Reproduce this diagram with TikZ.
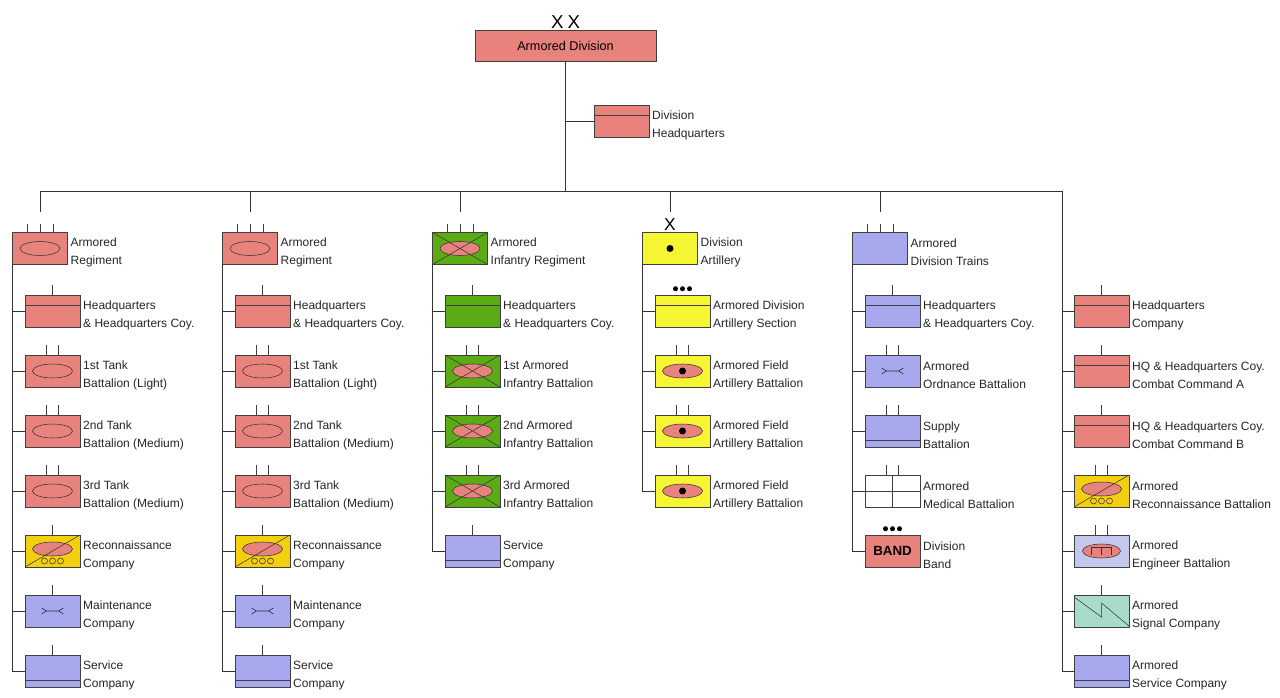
\documentclass[tikz,border=0pt]{standalone}
\usepackage{fontspec}
\setmainfont{Liberation Sans}
\usepackage{tikz}
\definecolor{armred}{HTML}{E8827C}
\definecolor{infgreen}{HTML}{5AAB14}
\definecolor{artyyel}{HTML}{F5F533}
\definecolor{reconyel}{HTML}{F2D010}
\definecolor{svcblue}{HTML}{A8A8EE}
\definecolor{engblue}{HTML}{C4C8EC}
\definecolor{sigteal}{HTML}{A8DCC8}
\tikzset{%
  unit/.style={draw=black!75, minimum width=41.25pt, minimum height=24pt,
               inner sep=0pt},
  lbl/.style={anchor=west, align=left, inner sep=0pt, text=black!85,
              font=\fontsize{9}{13.5}\selectfont},
  conn/.style={draw=black!80},
  % symbols, drawn from the box centre (1 unit = 1 px, y downwards)
  sy-none/.pic={},
  sy-hq/.pic={\draw[black!75] (-27.5,-6) -- (27.5,-6);},
  sy-armor/.pic={\draw[black!80] (0,0) ellipse [x radius=20, y radius=7];},
  sy-inf/.pic={\draw[black!80,fill=armred] (0,0) ellipse [x radius=20, y radius=7];
               \draw[black!80] (-27.5,-16) -- (27.5,16) (-27.5,16) -- (27.5,-16);},
  sy-recon/.pic={\draw[black!80,fill=armred] (0,-2) ellipse [x radius=20, y radius=7];
                 \draw[black!80] (-27.5,16) -- (27.5,-16);
                 \foreach \c in {-8,0,8} \draw[black!80] (\c,10) circle [radius=3];},
  sy-maint/.pic={\draw[black!85] (-11,-3) -- (-6,0) -- (-11,3) (-6,0) -- (6,0)
                 (11,-3) -- (6,0) -- (11,3);},
  sy-service/.pic={\draw[black!75] (-27.5,9) -- (27.5,9);},
  sy-arty/.pic={\fill (0,0) circle [radius=3.5];},
  sy-field/.pic={\draw[black!80,fill=armred] (0,0) ellipse [x radius=20, y radius=7];
                 \fill (0,0) circle [radius=3.5];},
  sy-medical/.pic={\draw[black!75] (0,-16) -- (0,16) (-27.5,0) -- (27.5,0);},
  sy-band/.pic={\node[font=\bfseries\fontsize{10}{12}\selectfont] {BAND};},
  sy-engineer/.pic={\draw[black!80,fill=armred] (0,0) ellipse [x radius=19, y radius=7];
                    \draw[black!80] (-10,4) -- (-10,-4) -- (10,-4) -- (10,4) (0,-4) -- (0,4);},
  sy-signal/.pic={\draw[black!80] (-27.5,-14) -- (0,6) -- (0,-8) -- (27.5,15);},
  % echelon marks, drawn from the top of the box
  ec-co/.pic={\draw[black!75] (0,0) -- (0,-10);},
  ec-bn/.pic={\draw[black!75] (-6,0) -- (-6,-10) (6,0) -- (6,-10);},
  ec-rgt/.pic={\draw[black!75] (-13,0) -- (-13,-8) (0,0) -- (0,-8) (13,0) -- (13,-8);},
  ec-sec/.pic={\foreach \c in {-7,0,7} \fill (\c,-6) circle [radius=2.5];},
  ec-bde/.pic={\node[anchor=south, inner sep=0pt, font=\fontsize{13}{13}\selectfont] at (0,-1) {X};},
}
% name, centre, fill, symbol, echelon, label
\newcommand\orgunit[6]{%
  \node[unit, fill=#3] (#1) at (#2) {};
  \pic at (#1.center) {#4};
  \pic at (#1.north) {#5};
  \node[lbl] at ([xshift=2pt,yshift=-3pt]#1.east) {#6};}

\begin{document}
\begin{tikzpicture}[x=0.75pt, y=-0.75pt]
  \useasboundingbox (0,0) rectangle (1280,698);

  % division
  \node[unit, fill=armred, minimum width=135.75pt, minimum height=23.25pt,
        font=\fontsize{9.5}{12}\selectfont] (div) at (565.5,45.5) {Armored Division};
  \node[anchor=south, inner sep=0pt, font=\fontsize{14}{14}\selectfont]
       (xx) at ([yshift=1pt]div.north) {X\hspace{3pt}X};
  \orgunit{divhq}{621.5,121}{armred}{sy-hq}{sy-none}{Division\\Headquarters}
  \coordinate (bus) at (565,191);
  \draw[conn] (div.south -| bus) -- (bus);
  \draw[conn] (divhq.west) -- (bus |- divhq.west);
  \draw[conn] (40,191) -- (1062,191);
  \foreach \k in {0,...,4}
    \draw[conn] (40+210*\k,191) -- (40+210*\k,212);

  % armored regiments
  \foreach \k/\n in {0/a,1/b} {
    \orgunit{\n0}{40+210*\k,248.5}{armred}{sy-armor}{ec-rgt}{Armored\\Regiment}
    \orgunit{\n1}{52.5+210*\k,311}{armred}{sy-hq}{ec-co}{Headquarters\\\& Headquarters Coy.}
    \orgunit{\n2}{52.5+210*\k,371}{armred}{sy-armor}{ec-bn}{1st Tank\\Battalion (Light)}
    \orgunit{\n3}{52.5+210*\k,431}{armred}{sy-armor}{ec-bn}{2nd Tank\\Battalion (Medium)}
    \orgunit{\n4}{52.5+210*\k,491}{armred}{sy-armor}{ec-bn}{3rd Tank\\Battalion (Medium)}
    \orgunit{\n5}{52.5+210*\k,551}{reconyel}{sy-recon}{ec-co}{Reconnaissance\\Company}
    \orgunit{\n6}{52.5+210*\k,611}{svcblue}{sy-maint}{ec-co}{Maintenance\\Company}
    \orgunit{\n7}{52.5+210*\k,671}{svcblue}{sy-service}{ec-co}{Service\\Company}
    \foreach \j in {1,...,7}
      \draw[conn] (\n0.south west) |- (\n\j.west);
  }

  % armored infantry regiment
  \orgunit{c0}{460,248.5}{infgreen}{sy-inf}{ec-rgt}{Armored\\Infantry Regiment}
  \orgunit{c1}{472.5,311}{infgreen}{sy-hq}{ec-co}{Headquarters\\\& Headquarters Coy.}
  \orgunit{c2}{472.5,371}{infgreen}{sy-inf}{ec-bn}{1st Armored\\Infantry Battalion}
  \orgunit{c3}{472.5,431}{infgreen}{sy-inf}{ec-bn}{2nd Armored\\Infantry Battalion}
  \orgunit{c4}{472.5,491}{infgreen}{sy-inf}{ec-bn}{3rd Armored\\Infantry Battalion}
  \orgunit{c5}{472.5,551}{svcblue}{sy-service}{ec-co}{Service\\Company}
  \foreach \j in {1,...,5}
    \draw[conn] (c0.south west) |- (c\j.west);

  % division artillery
  \orgunit{d0}{670,248.5}{artyyel}{sy-arty}{ec-bde}{Division\\Artillery}
  \orgunit{d1}{682.5,311}{artyyel}{sy-hq}{ec-sec}{Armored Division\\Artillery Section}
  \orgunit{d2}{682.5,371}{artyyel}{sy-field}{ec-bn}{Armored Field\\Artillery Battalion}
  \orgunit{d3}{682.5,431}{artyyel}{sy-field}{ec-bn}{Armored Field\\Artillery Battalion}
  \orgunit{d4}{682.5,491}{artyyel}{sy-field}{ec-bn}{Armored Field\\Artillery Battalion}
  \foreach \j in {1,...,4}
    \draw[conn] (d0.south west) |- (d\j.west);

  % division trains
  \orgunit{e0}{880,248.5}{svcblue}{sy-none}{ec-rgt}{Armored\\Division Trains}
  \orgunit{e1}{892.5,311}{svcblue}{sy-hq}{ec-co}{Headquarters\\\& Headquarters Coy.}
  \orgunit{e2}{892.5,371}{svcblue}{sy-maint}{ec-bn}{Armored\\Ordnance Battalion}
  \orgunit{e3}{892.5,431}{svcblue}{sy-service}{ec-bn}{Supply\\Battalion}
  \orgunit{e4}{892.5,491}{white}{sy-medical}{ec-bn}{Armored\\Medical Battalion}
  \orgunit{e5}{892.5,551}{armred}{sy-band}{ec-sec}{Division\\Band}
  \foreach \j in {1,...,5}
    \draw[conn] (e0.south west) |- (e\j.west);

  % divisional units
  \coordinate (f0) at (1062,191);
  \orgunit{f1}{1101.5,311}{armred}{sy-hq}{ec-co}{Headquarters\\Company}
  \orgunit{f2}{1101.5,371}{armred}{sy-hq}{ec-co}{HQ \& Headquarters Coy.\\Combat Command A}
  \orgunit{f3}{1101.5,431}{armred}{sy-hq}{ec-co}{HQ \& Headquarters Coy.\\Combat Command B}
  \orgunit{f4}{1101.5,491}{reconyel}{sy-recon}{ec-bn}{Armored\\Reconnaissance Battalion}
  \orgunit{f5}{1101.5,551}{engblue}{sy-engineer}{ec-bn}{Armored\\Engineer Battalion}
  \orgunit{f6}{1101.5,611}{sigteal}{sy-signal}{ec-co}{Armored\\Signal Company}
  \orgunit{f7}{1101.5,671}{svcblue}{sy-service}{ec-co}{Armored\\Service Company}
  \foreach \j in {1,...,7}
    \draw[conn] (f0) |- (f\j.west);
\end{tikzpicture}
\end{document}
